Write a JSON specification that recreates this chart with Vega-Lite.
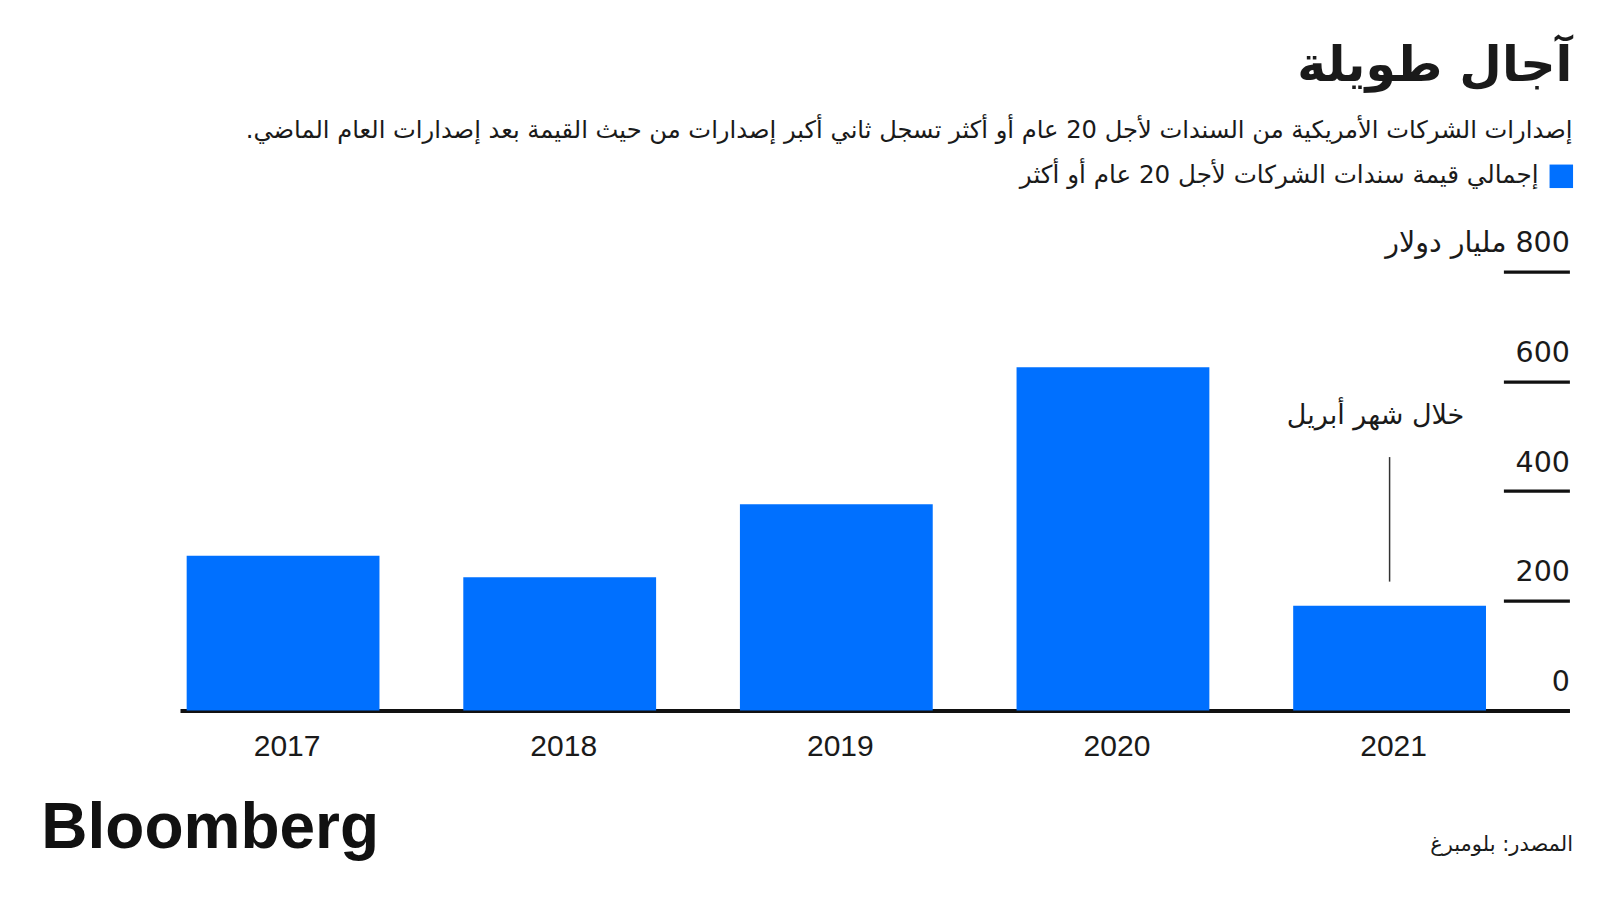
{
  "$schema": "https://vega.github.io/schema/vega-lite/v6.json",
  "autosize": {"type": "none"},
  "width": 1389.4,
  "height": 438.8,
  "padding": {"left": 180, "top": 271.7, "right": 30.6, "bottom": 189.5},
  "background": "white",
  "datasets": {
    "bars": [
      {"year": "2017", "value": 282, "series": "إجمالي قيمة سندات الشركات لأجل 20 عام أو أكثر"},
      {"year": "2018", "value": 243, "series": "إجمالي قيمة سندات الشركات لأجل 20 عام أو أكثر"},
      {"year": "2019", "value": 376, "series": "إجمالي قيمة سندات الشركات لأجل 20 عام أو أكثر"},
      {"year": "2020", "value": 626, "series": "إجمالي قيمة سندات الشركات لأجل 20 عام أو أكثر"},
      {"year": "2021", "value": 191, "series": "إجمالي قيمة سندات الشركات لأجل 20 عام أو أكثر"}
    ],
    "note_line": [{"year": "2021", "value": 462, "value2": 235}],
    "note_text": [{"year": "2021", "value": 537, "label": "خلال شهر أبريل"}]
  },
  "title": {
    "text": "آجال طويلة",
    "subtitle": "إصدارات الشركات الأمريكية من السندات لأجل 20 عام أو أكثر تسجل ثاني أكبر إصدارات من حيث القيمة بعد إصدارات العام الماضي.‏",
    "anchor": "end",
    "frame": "group",
    "dx": 3,
    "offset": 21,
    "font": "DejaVu Sans",
    "fontSize": 49,
    "fontWeight": "bold",
    "color": "#1a1a1a",
    "subtitleFont": "DejaVu Sans",
    "subtitleFontSize": 24.2,
    "subtitleColor": "#1a1a1a",
    "subtitlePadding": 28
  },
  "encoding": {
    "x": {
      "field": "year",
      "type": "nominal",
      "scale": {"domain": ["2017", "2018", "2019", "2020", "2021"], "paddingInner": 0.303, "paddingOuter": 0.1628, "align": 0.074},
      "axis": {
        "title": "المصدر: بلومبرغ",
        "titleX": 1392.5,
        "titleY": 139.5,
        "titleAlign": "right",
        "titleBaseline": "alphabetic",
        "titleFont": "DejaVu Sans",
        "titleFontSize": 21,
        "titleFontWeight": "normal",
        "titleColor": "#1a1a1a",
        "labelAngle": 0,
        "labelFont": "Liberation Sans",
        "labelFontSize": 30,
        "labelColor": "#1a1a1a",
        "labelPadding": 21,
        "labelOffset": 4,
        "ticks": false,
        "domain": true,
        "domainColor": "#111111",
        "domainWidth": 4,
        "grid": false
      }
    }
  },
  "layer": [
    {
      "data": {"name": "bars"},
      "mark": {"type": "bar", "fill": "#0070ff"},
      "encoding": {
        "y": {
          "field": "value",
          "type": "quantitative",
          "scale": {"domain": [0, 800], "nice": false, "zero": true},
          "axis": {
            "title": "Bloomberg",
            "orient": "right",
            "offset": -66,
            "values": [0, 200, 400, 600, 800],
            "labelExpr": "datum.value == 800 ? 'مليار دولار\u200e 800' : datum.label",
            "tickSize": 66,
            "tickWidth": 3.3,
            "tickColor": "#111111",
            "domain": false,
            "grid": false,
            "labelAlign": "right",
            "labelBaseline": "alphabetic",
            "labelPadding": 0,
            "labelOffset": -20,
            "labelFlush": false,
            "labelOverlap": false,
            "labelBound": false,
            "labelLimit": 0,
            "labelFont": "DejaVu Sans",
            "labelFontSize": 28.5,
            "labelColor": "#1a1a1a",
            "titleAngle": 0,
            "titleX": -1462.6,
            "titleY": 575.3,
            "titleAlign": "left",
            "titleBaseline": "alphabetic",
            "titleFont": "Liberation Sans",
            "titleFontSize": 64,
            "titleFontWeight": "bold",
            "titleColor": "#111111"
          }
        },
        "color": {
          "field": "series",
          "type": "nominal",
          "scale": {"range": ["#0070ff"]},
          "legend": {
            "title": null,
            "orient": "none",
            "legendX": 1369,
            "legendY": -107.7,
            "padding": 0,
            "symbolType": "square",
            "symbolSize": 552,
            "symbolStrokeWidth": 0,
            "labelAlign": "right",
            "labelOffset": -35,
            "labelFont": "DejaVu Sans",
            "labelFontSize": 24.6,
            "labelColor": "#1a1a1a",
            "labelLimit": 0
          }
        }
      }
    },
    {
      "data": {"name": "note_line"},
      "mark": {"type": "rule", "stroke": "#333333", "strokeWidth": 1.5},
      "encoding": {
        "y": {"field": "value", "type": "quantitative", "title": "Bloomberg"},
        "y2": {"field": "value2"}
      }
    },
    {
      "data": {"name": "note_text"},
      "mark": {"type": "text", "font": "DejaVu Sans", "fontSize": 27, "color": "#1a1a1a", "align": "center", "baseline": "middle", "dx": -14},
      "encoding": {
        "y": {"field": "value", "type": "quantitative", "title": "Bloomberg"},
        "text": {"field": "label"}
      }
    }
  ],
  "config": {
    "view": {"stroke": null}
  }
}
